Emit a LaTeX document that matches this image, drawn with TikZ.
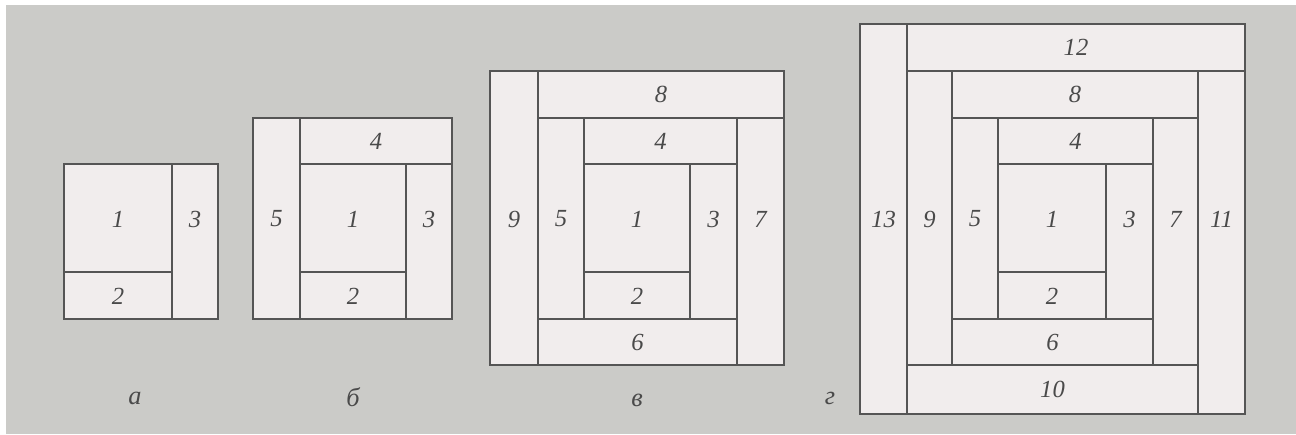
\documentclass[tikz,border=0pt]{standalone}
\usepackage{fontspec}
\setmainfont{Liberation Serif}
\definecolor{bg}{HTML}{CBCBC8}
\definecolor{piecefill}{HTML}{F1EDED}
\definecolor{edge}{HTML}{555555}
\definecolor{txt}{HTML}{4A4A4A}
\tikzset{
  piecestyle/.style={draw=edge, fill=piecefill, line width=1.1pt, rectangle, inner sep=0pt},
  numstyle/.style={text=txt, inner sep=0pt, font=\fontsize{14}{16}\selectfont\itshape},
  caption/.style={text=txt, inner sep=0pt, font=\fontsize{15}{17}\selectfont\itshape}
}
% #1 name, #2-#5 corners, #6 label, #7 label y
\newcommand\piece[7]{%
  \node[piecestyle, minimum width={(#4-#2)*0.02cm}, minimum height={(#5-#3)*0.02cm}]
    (#1) at ({(#2+#4)/2},{(#3+#5)/2}) {};
  \node[numstyle] (#1l) at ({(#2+#4)/2},#7) {#6};}
\begin{document}
\begin{tikzpicture}[x=0.02cm, y=-0.02cm]
\useasboundingbox (0,0) rectangle (1296,434);
\fill[white] (0,0) rectangle (1296,434);
\fill[bg] (6,5) rectangle (1296,434);
% panel a
\piece{a1}{64}{164}{172}{272}{1}{219}
\piece{a2}{64}{272}{172}{319}{2}{296}
\piece{a3}{172}{164}{218}{319}{3}{219}
% panel b
\piece{b1}{300}{164}{406}{272}{1}{219}
\piece{b2}{300}{272}{406}{319}{2}{296}
\piece{b3}{406}{164}{452}{319}{3}{219}
\piece{b4}{300}{118}{452}{164}{4}{141}
\piece{b5}{253}{118}{300}{319}{5}{219}
% panel v
\piece{v1}{584}{164}{690}{272}{1}{219}
\piece{v2}{584}{272}{690}{319}{2}{296}
\piece{v3}{690}{164}{737}{319}{3}{219}
\piece{v4}{584}{118}{737}{164}{4}{141}
\piece{v5}{538}{118}{584}{319}{5}{219}
\piece{v6}{538}{319}{737}{365}{6}{342}
\piece{v7}{737}{118}{784}{365}{7}{219}
\piece{v8}{538}{71}{784}{118}{8}{94}
\piece{v9}{490}{71}{538}{365}{9}{219}
% panel g
\piece{g1}{998}{164}{1106}{272}{1}{219}
\piece{g2}{998}{272}{1106}{319}{2}{296}
\piece{g3}{1106}{164}{1153}{319}{3}{219}
\piece{g4}{998}{118}{1153}{164}{4}{141}
\piece{g5}{952}{118}{998}{319}{5}{219}
\piece{g6}{952}{319}{1153}{365}{6}{342}
\piece{g7}{1153}{118}{1198}{365}{7}{219}
\piece{g8}{952}{71}{1198}{118}{8}{94}
\piece{g9}{907}{71}{952}{365}{9}{219}
\piece{g10}{907}{365}{1198}{414}{10}{389}
\piece{g11}{1198}{71}{1245}{414}{11}{219}
\piece{g12}{907}{24}{1245}{71}{12}{47}
\piece{g13}{860}{24}{907}{414}{13}{219}
% captions
\node[caption] (capa) at (135,398) {а};
\node[caption] (capb) at (353,397) {б};
\node[caption] (capv) at (637,400) {в};
\node[caption] (capg) at (830,398) {г};
\end{tikzpicture}
\end{document}
